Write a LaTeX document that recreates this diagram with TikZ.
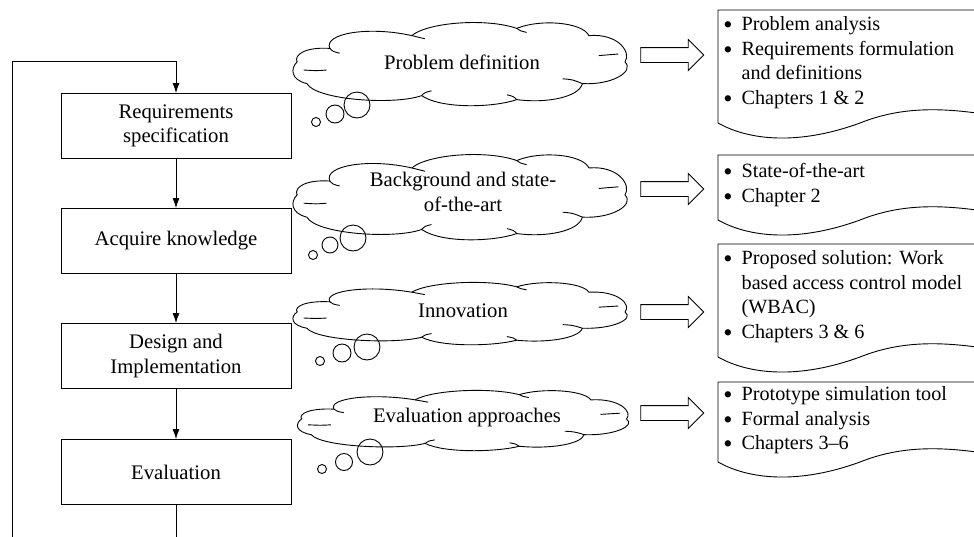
\documentclass[tikz,border=0pt]{standalone}
\usepackage{fontspec}
\setmainfont{Liberation Serif}
\usetikzlibrary{shapes.arrows,arrows.meta}

\newcommand\diagfont{\fontsize{20.7}{24.5}\selectfont}
\newcommand\notefont{\fontsize{20.2}{24.5}\selectfont}
\newcommand\bul{\raisebox{-3pt}{\scalebox{1.3}{\textbullet}}}

\tikzset{
  every path/.style={line width=0.9pt},
  stage/.style={draw, minimum width=230pt, minimum height=65pt, align=center,
                inner sep=0pt, font=\diagfont},
  cloudtext/.style={inner sep=0pt, align=center, font=\diagfont},
  bubble/.style={draw, circle, inner sep=0pt},
  hollow/.style={draw, single arrow, single arrow head extend=8pt,
                 single arrow head indent=0pt, inner sep=7pt, minimum height=63pt},
  notes/.style={anchor=north west, inner sep=0pt, font=\notefont},
  flow/.style={-{Latex[length=10pt,width=7pt]}}
}

% cloud outline: #1,#2 = centre, #3 = width, #4 = height
\newcommand\cloudoutline[4]{%
  \begin{scope}[shift={(#1,#2)}, xscale=#3/100, yscale=#4/100]
    \draw (-50,0) .. controls (-51,-10) and (-47,-19) .. (-40,-17)
      .. controls (-42,-36) and (-28,-45) .. (-15,-33)
      .. controls (-10,-50) and (8,-55) .. (17,-42)
      .. controls (24,-54) and (37,-50) .. (39,-33)
      .. controls (48,-36) and (52,-12) .. (50,0)
      .. controls (53,12) and (46,29) .. (37,27)
      .. controls (36,44) and (26,52) .. (17,47)
      .. controls (10,57) and (-6,59) .. (-12,42)
      .. controls (-20,54) and (-44,48) .. (-47,27)
      .. controls (-52,22) and (-52,8) .. cycle;
    % inner curls where the puffs overlap
    \draw (-40,-17) .. controls (-39,-13) .. (-37,-11);
    \draw (-15,-33) .. controls (-13,-30) .. (-11,-29);
    \draw (17,-42) .. controls (18,-39) .. (20,-37);
    \draw (48,-10) .. controls (45,-8) .. (42,-8);
    \draw (37,27) .. controls (34,22) .. (31,21);
    \draw (17,47) .. controls (16,43) .. (14,41);
    \draw (-12,42) .. controls (-11,38) .. (-9,36);
    \draw (-48,10) .. controls (-44,11) .. (-41,10);
  \end{scope}}

% document outline with a wavy lower edge: #1 = top, #2 = lower left corner
\newcommand\docoutline[2]{%
  \draw (990,#2-8) -- (990,#1) -- (718,#1) -- (718,#2)
    .. controls (750,#2+18) and (800,#2+22) .. (860,#2)
    .. controls (900,#2-16) and (940,#2-16) .. (990,#2-8);}

\newcommand\itemlist[1]{\begin{tabular}{@{\hspace{3pt}}l@{\hspace{9pt}}l@{}}#1\end{tabular}}

\begin{document}
\begin{tikzpicture}[x=1pt, y=-1pt]
\useasboundingbox (0,0) rectangle (974,536);

% process stages
\node[stage] (req)  at (176,126) {Requirements\\specification};
\node[stage] (acq)  at (176,241) {Acquire knowledge};
\node[stage] (des)  at (176,356) {Design and\\Implementation};
\node[stage] (eval) at (176,472) {Evaluation};

\draw[flow] (req) -- (acq);
\draw[flow] (acq) -- (des);
\draw[flow] (des) -- (eval);

% feedback loop along the left side
\coordinate (loopstart) at (12,540);
\coordinate (looptop) at (12,61);
\coordinate (tailend) at (176,540);
\draw[flow] (loopstart) -- (looptop) -| (req.north);
\draw (eval.south) -- (tailend);

% thought clouds
\cloudoutline{461}{62}{328}{80}
\node[cloudtext] (c1) at (462,62) {Problem definition};
\cloudoutline{461}{195}{328}{82}
\node[cloudtext] (c2) at (463,192) {Background and state-\\of-the-art};
\cloudoutline{461}{312}{328}{60}
\node[cloudtext] (c3) at (463,311) {Innovation};
\cloudoutline{464}{419}{325}{58}
\node[cloudtext] (c4) at (467,418) {Evaluation approaches};

% thought bubbles
\node[bubble, minimum size=9pt]  (c1a) at (316,122) {};
\node[bubble, minimum size=18pt] (c1b) at (335,114) {};
\node[bubble, minimum size=26pt] (c1c) at (357,105) {};

\node[bubble, minimum size=9pt]  (c2a) at (313,255) {};
\node[bubble, minimum size=16pt] (c2b) at (330,245) {};
\node[bubble, minimum size=26pt] (c2c) at (353,238) {};

\node[bubble, minimum size=9pt]  (c3a) at (320,361) {};
\node[bubble, minimum size=18pt] (c3b) at (342,353) {};
\node[bubble, minimum size=26pt] (c3c) at (367,347) {};

\node[bubble, minimum size=9pt]  (c4a) at (322,469) {};
\node[bubble, minimum size=17pt] (c4b) at (344,462) {};
\node[bubble, minimum size=26pt] (c4c) at (370,452) {};

% hollow arrows towards the outcomes
\node[hollow] (h1) at (668.5,55) {};
\node[hollow] (h2) at (668.5,189) {};
\node[hollow] (h3) at (668.5,312) {};
\node[hollow] (h4) at (668.5,413) {};

% outcome documents
\docoutline{10}{123}
\node[notes] (d1) at (720,13) {\itemlist{%
  \bul & Problem analysis\\
  \bul & Requirements formulation\\
       & and definitions\\
  \bul & Chapters 1 \& 2}};

\docoutline{155}{220}
\node[notes] (d2) at (720,160) {\itemlist{%
  \bul & State-of-the-art\\
  \bul & Chapter 2}};

\docoutline{244}{357}
\node[notes] (d3) at (720,247) {\itemlist{%
  \bul & Proposed solution: Work\\
       & based access control model\\
       & (WBAC)\\
  \bul & Chapters 3 \& 6}};

\docoutline{382}{462}
\node[notes] (d4) at (720,383) {\itemlist{%
  \bul & Prototype simulation tool\\
  \bul & Formal analysis\\
  \bul & Chapters 3--6}};
\end{tikzpicture}
\end{document}
